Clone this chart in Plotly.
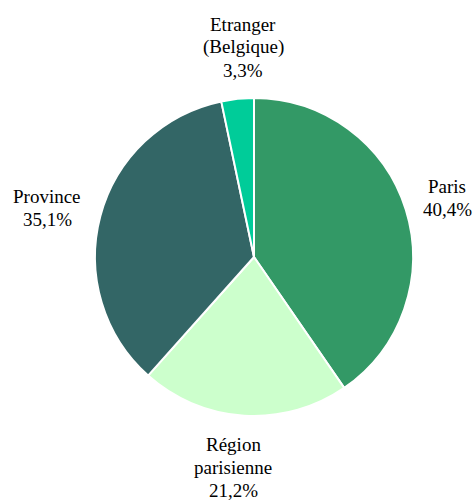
import plotly.graph_objects as go

labels = ["Paris", "Région|parisienne", "Province", "Etranger|(Belgique)"]
values = [40.4, 21.2, 35.1, 3.3]
colors = ["#339966", "#CCFFCC", "#336666", "#00CC99"]

# label block centres (pixels in the 473x501 canvas)
label_x = [447, 233, 47, 243]
label_y = [198, 467, 208, 47]

W, H = 473, 501
cx, cy, r = 254, 257, 159
FONT = "Tinos"
LINE = 23

fig = go.Figure()
fig.add_trace(go.Pie(
    labels=[l.replace("|", " ") for l in labels],
    values=values,
    textinfo="none",
    sort=False,
    direction="clockwise",
    rotation=0,
    marker=dict(colors=colors, line=dict(color="white", width=2)),
    showlegend=False,
    hoverinfo="label+percent",
    domain=dict(x=[(cx - r) / W, (cx + r) / W], y=[(H - cy - r) / H, (H - cy + r) / H]),
))
for l, v, x, y in zip(labels, values, label_x, label_y):
    lines = l.split("|") + [f"{v:.1f}%".replace(".", ",")]
    n = len(lines)
    for i, s in enumerate(lines):
        ly = y + (i - (n - 1) / 2) * LINE
        fig.add_annotation(
            text=s, x=x / W, y=1 - ly / H, xref="paper", yref="paper",
            xanchor="center", yanchor="middle", showarrow=False,
            font=dict(family=FONT, size=19, color="black"),
        )
fig.update_layout(
    width=W, height=H,
    margin=dict(l=0, r=0, t=0, b=0),
    paper_bgcolor="white",
    plot_bgcolor="white",
    font=dict(family=FONT, color="black"),
)
fig.write_html("out.html")
